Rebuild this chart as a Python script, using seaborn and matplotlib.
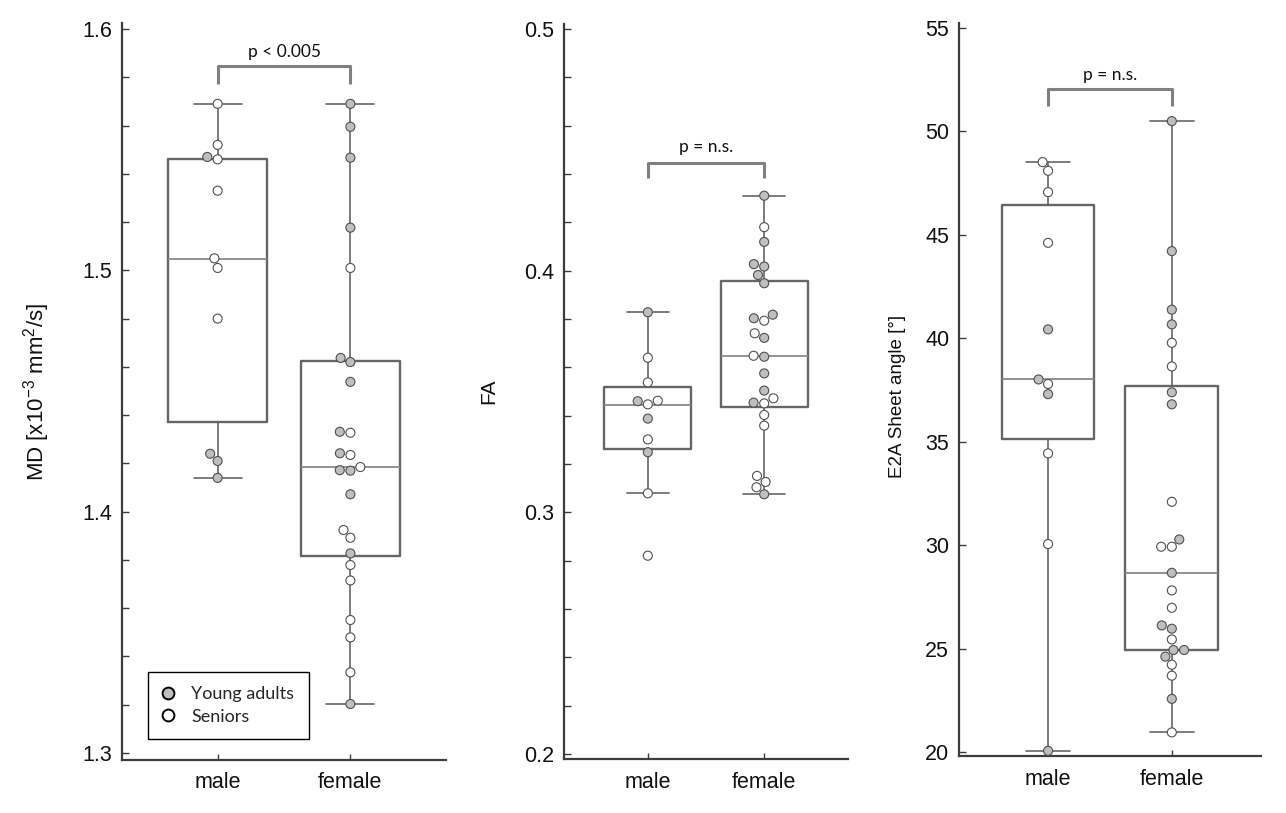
import numpy as np
import pandas as pd
import matplotlib
matplotlib.use("Agg")
import matplotlib.pyplot as plt
from matplotlib.ticker import MultipleLocator
from matplotlib.lines import Line2D
import seaborn as sns

# ---------------- data ----------------
categories = ["male", "female"]
groups = ["Young adults", "Seniors"]

# Panel 1: MD [x10^-3 mm^2/s]
md_male_young = [1.547, 1.424, 1.421, 1.414]
md_male_seniors = [1.569, 1.552, 1.546, 1.533, 1.505, 1.501, 1.480]
md_female_young = [1.569, 1.5595, 1.5467, 1.5177, 1.462, 1.4637, 1.4538, 1.4331,
                   1.4242, 1.417, 1.4172, 1.4072, 1.3827, 1.3203]
md_female_seniors = [1.501, 1.4327, 1.4235, 1.4185, 1.3924, 1.3892, 1.3779, 1.3715,
                     1.3551, 1.3479, 1.3334]

# Panel 2: FA
fa_male_young = [0.3828, 0.346, 0.3388, 0.3249]
fa_male_seniors = [0.364, 0.3538, 0.3447, 0.3462, 0.3302, 0.3079, 0.2821]
fa_female_young = [0.431, 0.4119, 0.4017, 0.4027, 0.3982, 0.3948, 0.3818, 0.3803,
                   0.3722, 0.3644, 0.3575, 0.3504, 0.3454, 0.3075]
fa_female_seniors = [0.418, 0.3793, 0.3741, 0.3648, 0.3472, 0.3451, 0.3403, 0.3359,
                     0.3151, 0.3126, 0.3104]

# Panel 3: E2A sheet angle [deg]
e2a_male_young = [40.42, 38.0, 37.29, 20.06]
e2a_male_seniors = [48.5, 48.08, 47.05, 44.6, 37.78, 34.43, 30.05]
e2a_female_young = [50.48, 44.2, 41.37, 40.66, 37.38, 36.8, 30.27, 28.66, 26.12,
                    25.96, 24.93, 24.93, 24.61, 22.57]
e2a_female_seniors = [39.77, 38.63, 32.09, 29.92, 29.92, 27.81, 26.97, 25.44, 24.22,
                      23.69, 20.95]

# Box statistics as drawn in the picture: whisker low, Q1, median, Q3, whisker high
md_box_male = [1.414, 1.437, 1.5046, 1.546, 1.569]
md_box_female = [1.3203, 1.3816, 1.4186, 1.4624, 1.569]
fa_box_male = [0.3079, 0.3262, 0.3443, 0.352, 0.3828]
fa_box_female = [0.3075, 0.3437, 0.3648, 0.3959, 0.431]
e2a_box_male = [20.06, 35.12, 38.0, 46.41, 48.5]
e2a_box_female = [20.95, 24.93, 28.66, 37.70, 50.48]

y_labels = ["MD [x10$^{-3}$ mm$^{2}$/s]", "FA", "E2A Sheet angle [°]"]
p_labels = ["p < 0.005", "p = n.s.", "p = n.s."]
y_tick_labels = [["1.3", "1.4", "1.5", "1.6"], ["0.2", "0.3", "0.4", "0.5"],
                 ["20", "25", "30", "35", "40", "45", "50", "55"]]
y_tick_values = [[1.3, 1.4, 1.5, 1.6], [0.2, 0.3, 0.4, 0.5],
                 [20, 25, 30, 35, 40, 45, 50, 55]]

# ---------------- layout / style ----------------
sns.set_style("white")
plt.rcParams["font.family"] = ["Liberation Sans", "DejaVu Sans"]
plt.rcParams["mathtext.fontset"] = "custom"
plt.rcParams["mathtext.rm"] = "Liberation Sans"
plt.rcParams["mathtext.it"] = "Liberation Sans"

panels = [
    dict(vals=(md_male_young, md_male_seniors, md_female_young, md_female_seniors),
         box=(md_box_male, md_box_female), rect=(0.0949, 0.0652, 0.2519, 0.9065),
         ylim=(1.2971, 1.6025), minor=0.02,
         bracket=(1.5772, 1.5847, 1.5905), ylab_xy=(-0.216, 0.50), ylab_size=16),
    dict(vals=(fa_male_young, fa_male_seniors, fa_female_young, fa_female_seniors),
         box=(fa_box_male, fa_box_female), rect=(0.4386, 0.0664, 0.2208, 0.904),
         ylim=(0.198, 0.502), minor=0.02,
         bracket=(0.4385, 0.4447, 0.4513), ylab_xy=(-0.232, 0.50), ylab_size=15),
    dict(vals=(e2a_male_young, e2a_male_seniors, e2a_female_young, e2a_female_seniors),
         box=(e2a_box_male, e2a_box_female), rect=(0.7457, 0.0701, 0.2348, 0.9016),
         ylim=(19.81, 55.22), minor=None,
         bracket=(51.21, 52.01, 52.70), ylab_xy=(-0.176, 0.49), ylab_size=13.5),
]

spine_c = "#3c3c3c"
box_c = "#666666"
med_c = "#8a8a8a"
bracket_c = "#808080"
young_c = "#bfbfbf"
senior_c = "#ffffff"
pt_edge = "#505050"

fig = plt.figure(figsize=(12.86, 8.13), dpi=100)

axes = []
for i, p in enumerate(panels):
    ax = fig.add_axes(p["rect"])
    axes.append(ax)
    m_y, m_s, f_y, f_s = p["vals"]
    sex = (["male"] * len(m_y) + ["male"] * len(m_s) +
           ["female"] * len(f_y) + ["female"] * len(f_s))
    grp = ([groups[0]] * len(m_y) + [groups[1]] * len(m_s) +
           [groups[0]] * len(f_y) + [groups[1]] * len(f_s))
    df = pd.DataFrame({"sex": sex, "group": grp,
                       "value": list(m_y) + list(m_s) + list(f_y) + list(f_s)})

    stats = [dict(whislo=b[0], q1=b[1], med=b[2], q3=b[3], whishi=b[4], fliers=[])
             for b in p["box"]]
    ax.bxp(stats, positions=[0, 1], widths=0.75, capwidths=0.36, showfliers=False,
           manage_ticks=False, zorder=1,
           boxprops=dict(color=box_c, linewidth=1.7),
           whiskerprops=dict(color=box_c, linewidth=1.2),
           capprops=dict(color=box_c, linewidth=1.2),
           medianprops=dict(color=med_c, linewidth=1.3))

    sns.swarmplot(data=df, x="sex", y="value", hue="group", order=categories,
                  hue_order=groups, palette={groups[0]: young_c, groups[1]: senior_c},
                  size=6.5, edgecolor=pt_edge, linewidth=0.8, legend=False, ax=ax,
                  zorder=3)

    # significance bracket
    y_end, y_top, y_txt = p["bracket"]
    ax.plot([0, 0, 1, 1], [y_end, y_top, y_top, y_end], color=bracket_c, lw=2.2,
            solid_joinstyle="round", solid_capstyle="butt", zorder=2)
    ax.text(0.5, y_txt, p_labels[i], ha="center", va="center", fontsize=12.5,
            family=["Lato", "DejaVu Sans"], color="#111111")

    ax.set_xlim(-0.72, 1.72)
    ax.set_ylim(*p["ylim"])
    ax.set_xticks([0, 1])
    ax.set_xticklabels(categories)
    ax.set_yticks(y_tick_values[i])
    ax.set_yticklabels(y_tick_labels[i])
    if p["minor"]:
        ax.yaxis.set_minor_locator(MultipleLocator(p["minor"]))
    ax.set_xlabel("")
    ax.set_ylabel(y_labels[i], fontsize=p["ylab_size"], color="#111111")
    ax.yaxis.set_label_coords(*p["ylab_xy"])

    for s in ["top", "right"]:
        ax.spines[s].set_visible(False)
    for s in ["left", "bottom"]:
        ax.spines[s].set_color(spine_c)
        ax.spines[s].set_linewidth(1.6)
    ax.tick_params(axis="y", which="both", left=True, right=False, direction="in",
                   length=5, width=1, color=spine_c, labelsize=15.5,
                   labelcolor="#111111", pad=7)
    ax.tick_params(axis="x", which="both", bottom=True, top=False, direction="in",
                   length=4, width=1, color=spine_c, labelsize=15.5,
                   labelcolor="#111111", pad=9)
    ax.tick_params(axis="x", which="minor", bottom=False)

# legend in first panel
handles = [Line2D([], [], marker="o", linestyle="none", markersize=8.5,
                  markerfacecolor=c, markeredgecolor="black", markeredgewidth=1.4)
           for c in (young_c, senior_c)]
leg = axes[0].legend(handles, groups, loc="lower left", bbox_to_anchor=(0.080, 0.0285),
                     borderaxespad=0, frameon=True, fancybox=False, edgecolor="black",
                     framealpha=1, prop=dict(family="Lato", size=13),
                     handletextpad=1.0, borderpad=0.8, labelspacing=0.35,
                     handlelength=0.6)
leg.get_frame().set_linewidth(1.0)

fig.savefig("out.png", dpi=100, facecolor="white")
